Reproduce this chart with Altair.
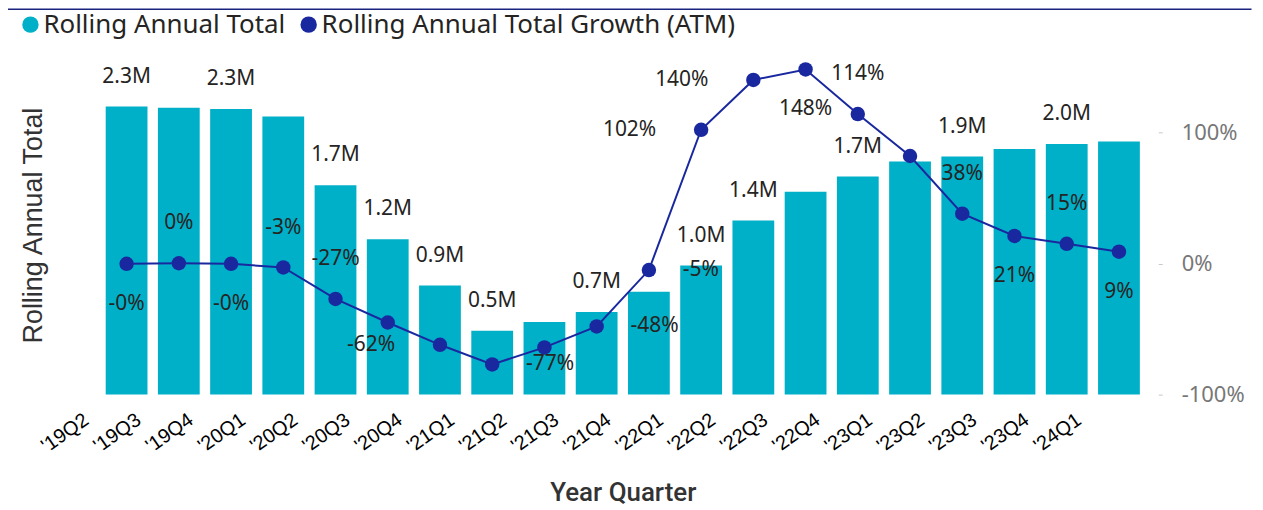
import altair as alt
import pandas as pd

# ---------------- data ----------------
quarters = ["'19Q2", "'19Q3", "'19Q4", "'20Q1", "'20Q2", "'20Q3", "'20Q4", "'21Q1",
            "'21Q2", "'21Q3", "'21Q4", "'22Q1", "'22Q2", "'22Q3", "'22Q4", "'23Q1",
            "'23Q2", "'23Q3", "'23Q4", "'24Q1"]
rolling_total_m = [2.30, 2.29, 2.28, 2.22, 1.67, 1.24, 0.87, 0.51, 0.58, 0.66,
                   0.82, 1.03, 1.39, 1.62, 1.74, 1.86, 1.90, 1.96, 2.00, 2.02]
growth_pct = [-0.2, 0.2, -0.2, -3, -27, -45, -62, -77, -64, -48,
              -5, 102, 140, 148, 114, 82, 38, 21, 15, 9]
series_names = ["Rolling Annual Total", "Rolling Annual Total Growth (ATM)"]
growth_ticks = [-100, 0, 100]

# ---------------- styling / label placement ----------------
TEAL = "#00B0C8"
NAVY = "#1A28A0"
FONT = "Noto Sans"
TXT = "#252423"

bar_label_idx = {0, 2, 4, 5, 6, 7, 9, 11, 12, 14, 16, 18}
line_label_place = {0: "below", 1: "above", 2: "below", 3: "above", 4: "above",
                    6: "left", 7: "right", 9: "right", 10: "right", 11: "left",
                    12: "left", 13: "below", 14: "above", 16: "above", 17: "below",
                    18: "above", 19: "below"}

bars_df = pd.DataFrame({"quarter": quarters, "total": rolling_total_m,
                        "series": series_names[0]})
bars_df["label"] = [f"{v:.1f}M" if i in bar_label_idx else ""
                    for i, v in enumerate(rolling_total_m)]

line_df = pd.DataFrame({"quarter": quarters, "growth": growth_pct,
                        "series": series_names[1]})
line_df["label"] = [f"{v:.0f}%" for v in growth_pct]
line_df["place"] = [line_label_place.get(i, "none") for i in range(len(quarters))]

x = alt.X("quarter:N", sort=quarters,
          scale=alt.Scale(paddingInner=0.2, paddingOuter=0.2),
          axis=alt.Axis(title="Year Quarter", labelAngle=-35, labelAlign="right",
                        labelBaseline="middle", labelOffset=-40, labelPadding=23,
                        labelFont="Liberation Sans", labelFontSize=20, labelColor="#000",
                        domain=False, ticks=False, grid=False,
                        titleFont="Roboto", titleFontSize=26, titleColor="#333",
                        titleFontWeight=500, titlePadding=24))

color = alt.Color("series:N",
                  scale=alt.Scale(domain=series_names, range=[TEAL, NAVY]),
                  legend=alt.Legend(title=None, orient="none", legendX=-78, legendY=-44,
                                    direction="horizontal", symbolType="circle",
                                    symbolSize=270, labelFontSize=26, labelFont=FONT,
                                    labelColor=TXT, columnPadding=10, labelOffset=0,
                                    labelLimit=0, padding=0))

bar_scale = alt.Scale(domain=[0, 2.706], nice=False, zero=True)
growth_scale = alt.Scale(domain=[-100, 158.6], nice=False, zero=False)

y_total = alt.Y("total:Q", scale=bar_scale,
                axis=alt.Axis(title="Rolling Annual Total", labels=False, ticks=False,
                              domain=False, grid=False, titleFont="Liberation Sans",
                              titleFontSize=27, titleColor="#333",
                              titleFontWeight="normal", titlePadding=48))

bars = alt.Chart(bars_df).mark_bar().encode(x=x, y=y_total, color=color)

bar_text = alt.Chart(bars_df).mark_text(
    dy=-30, baseline="middle", font=FONT, fontSize=21, color=TXT).encode(
    x=x, y=y_total, text="label:N")

top_rule = alt.Chart(pd.DataFrame({"k": [0]})).mark_rule(
    color="#1A237E", strokeWidth=1.5).encode(
    x=alt.value(-87.5), x2=alt.value(1159.5), y=alt.value(-46.5))

y_growth = alt.Y("growth:Q", scale=growth_scale,
                 axis=alt.Axis(orient="right", values=growth_ticks,
                               labelExpr="datum.value + '%'", title=None, grid=False,
                               domain=False, ticks=True, tickSize=4, tickColor="#c8c8c8",
                               offset=8, labelPadding=19, labelFont=FONT,
                               labelFontSize=22, labelColor="#777"))

line = alt.Chart(line_df).mark_line(color=NAVY, strokeWidth=2).encode(x=x, y=y_growth)
pts = alt.Chart(line_df).mark_circle(size=210, opacity=1).encode(
    x=x, y=y_growth, color=color)


def line_text(place, **kw):
    return alt.Chart(line_df).transform_filter(alt.datum.place == place).mark_text(
        font=FONT, fontSize=21, color=TXT, baseline="middle", **kw).encode(
        x=x, y=y_growth, text="label:N")


t_above = line_text("above", dy=-40)
t_below = line_text("below", dy=40)
t_left = line_text("left", dx=-45, align="right")
t_right = line_text("right", dx=34, align="left")

left_group = alt.layer(top_rule, bars, bar_text)
right_group = alt.layer(line, pts, t_above, t_below, t_left, t_right)

chart = alt.layer(left_group, right_group).resolve_scale(y="independent").properties(
    width=1058, height=340,
    padding={"left": 87.5, "top": 47, "right": 105, "bottom": 112},
    autosize=alt.AutoSizeParams(type="none"),
).configure_view(stroke=None)

chart.save("out.html", embed_options={"renderer": "svg", "actions": False})
